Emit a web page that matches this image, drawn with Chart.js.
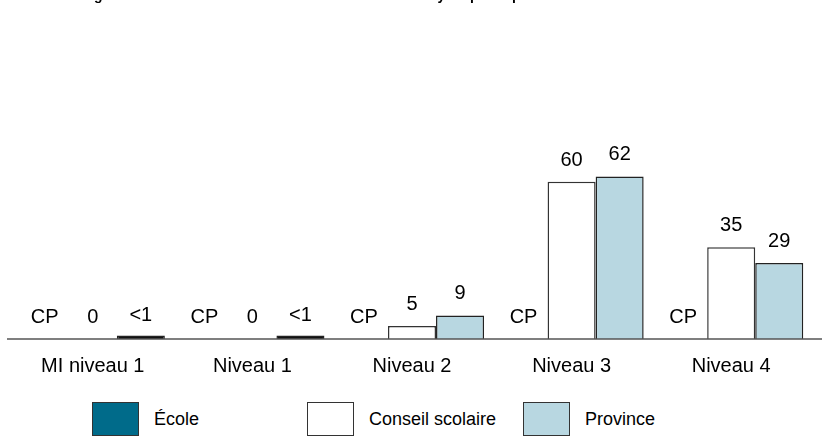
<!DOCTYPE html>
<html lang="fr">
<head>
<meta charset="utf-8">
<script src="https://cdn.jsdelivr.net/npm/chart.js@4.4.1/dist/chart.umd.min.js"></script>
<style>
  html, body { margin: 0; padding: 0; background: #fff; }
  #page { position: relative; width: 822px; height: 441px; overflow: hidden; font-family: "Liberation Sans", Arial, sans-serif; }
  #wrap { position: absolute; left: 0; top: -12px; width: 822px; height: 405px; }
  .leg { position: absolute; top: 402px; display: flex; align-items: center; font-size: 18px; color: #000; }
  .leg span.box { display: inline-block; width: 45px; height: 32px; border: 1.5px solid #333; margin-right: 15px; }
</style>
</head>
<body>
<div id="page">
  <div id="wrap"><canvas id="chart"></canvas></div>
  <div class="leg" style="left:92px"><span class="box" style="background:#006B8A"></span>École</div>
  <div class="leg" style="left:307px"><span class="box" style="background:#ffffff"></span>Conseil scolaire</div>
  <div class="leg" style="left:523px"><span class="box" style="background:#B8D7E1"></span>Province</div>
</div>
<script>
// Données
const niveaux = ['MI niveau 1', 'Niveau 1', 'Niveau 2', 'Niveau 3', 'Niveau 4'];
const ecole = [null, null, null, null, null];          // CP : données protégées
const conseil = [0, 0, 5, 60, 35];
const province = [0.9, 0.9, 9, 62, 29];                // <1 dessiné comme une barre minime
const ecoleLabels = ['CP', 'CP', 'CP', 'CP', 'CP'];
const conseilLabels = ['0', '0', '5', '60', '35'];
const provinceLabels = ['<1', '<1', '9', '62', '29'];
const titre = "Pourcentage des élèves de 3e année de l'école et du conseil ayant participé selon le niveau de rendement en lecture";

const FONT = '"Liberation Sans", Arial, sans-serif';

// étiquettes au-dessus des barres
const valueLabels = {
    id: 'valueLabels',
    afterDatasetsDraw(chart) {
        const ctx = chart.ctx;
        const yScale = chart.scales.y;
        ctx.save();
        ctx.font = '20px ' + FONT;
        ctx.fillStyle = '#000';
        ctx.textAlign = 'center';
        ctx.textBaseline = 'alphabetic';
        chart.data.datasets.forEach((ds, di) => {
            const meta = chart.getDatasetMeta(di);
            meta.data.forEach((bar, i) => {
                const v = ds.data[i];
                const y = yScale.getPixelForValue(v == null ? 0 : v);
                ctx.fillText(ds.valueLabels[i], bar.x, y - 16);
            });
        });
        ctx.restore();
    }
};

// ligne de base sur toute la largeur
const baseLine = {
    id: 'baseLine',
    afterDatasetsDraw(chart) {
        const ctx = chart.ctx;
        const y = chart.scales.y.getPixelForValue(0);
        ctx.save();
        ctx.strokeStyle = '#555';
        ctx.lineWidth = 1.5;
        ctx.beginPath();
        ctx.moveTo(7, y);
        ctx.lineTo(chart.width, y);
        ctx.stroke();
        ctx.restore();
    }
};

new Chart(document.getElementById('chart').getContext('2d'), {
    type: 'bar',
    data: {
        labels: niveaux,
        datasets: [
            {
                label: 'École',
                data: ecole,
                valueLabels: ecoleLabels,
                backgroundColor: '#006B8A',
                borderColor: '#333',
                borderWidth: 1.5
            },
            {
                label: 'Conseil scolaire',
                data: conseil,
                valueLabels: conseilLabels,
                backgroundColor: '#ffffff',
                borderColor: '#333',
                borderWidth: 1.5
            },
            {
                label: 'Province',
                data: province,
                valueLabels: provinceLabels,
                // une barre très basse n'est plus que son contour foncé
                backgroundColor: c => (c.raw < 1 ? '#111' : '#B8D7E1'),
                borderColor: '#222',
                borderWidth: 1.5,
                minBarLength: 3.5
            }
        ]
    },
    options: {
        responsive: true,
        maintainAspectRatio: false,
        animation: false,
        layout: {
            padding: { left: 13, right: 11, top: 0, bottom: 0 }
        },
        datasets: {
            bar: {
                categoryPercentage: 0.903,
                barPercentage: 1.0
            }
        },
        scales: {
            x: {
                grid: { display: false, drawTicks: false },
                border: { display: false },
                ticks: {
                    padding: 15,
                    color: '#000',
                    font: { family: FONT, size: 20 }
                }
            },
            y: {
                display: false,
                min: 0,
                max: 100
            }
        },
        plugins: {
            legend: { display: false },
            tooltip: { enabled: false },
            title: {
                display: true,
                text: titre,
                color: '#000',
                font: { family: FONT, size: 14, weight: 'bold' },
                padding: { top: 0, bottom: 72 }
            }
        }
    },
    plugins: [valueLabels, baseLine]
});
</script>
</body>
</html>
